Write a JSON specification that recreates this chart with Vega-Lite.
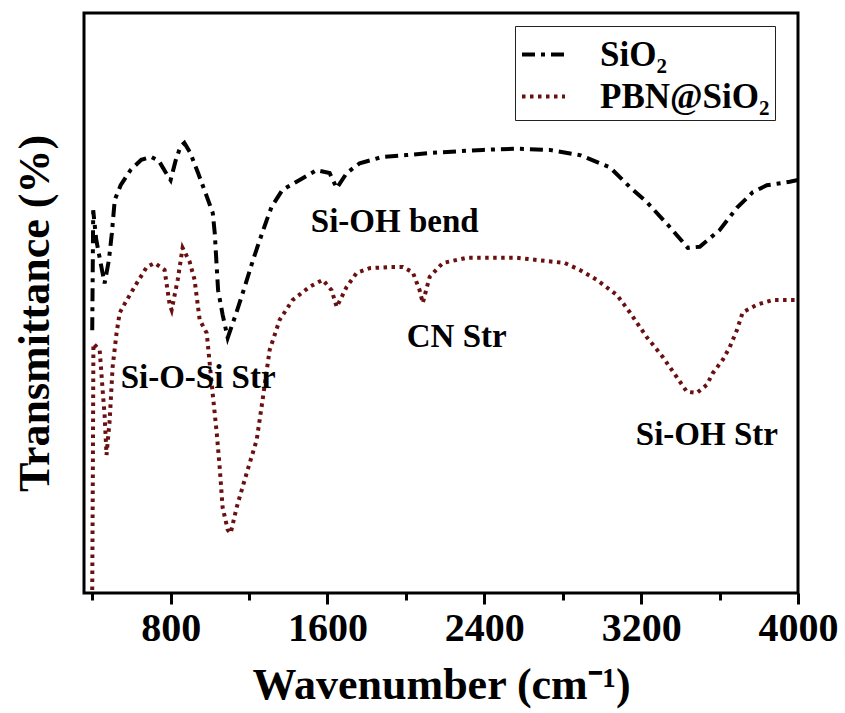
{
  "$schema": "https://vega.github.io/schema/vega-lite/v6.json",
  "width": 714,
  "height": 580,
  "autosize": {"type": "none"},
  "padding": {"left": 84, "top": 13, "right": 47, "bottom": 120},
  "background": "white",
  "config": {
    "view": {"stroke": "black", "strokeWidth": 3},
    "font": "Liberation Serif",
    "axis": {"grid": false}
  },
  "datasets": {
    "spectra": [
      {"w":400,"t":45.3,"s":"SiO₂"},{"w":405,"t":66.0,"s":"SiO₂"},{"w":420,"t":61.0,"s":"SiO₂"},{"w":440,"t":57.4,"s":"SiO₂"},{"w":463,"t":53.4,"s":"SiO₂"},{"w":485,"t":57.4,"s":"SiO₂"},{"w":500,"t":62.0,"s":"SiO₂"},{"w":515,"t":67.8,"s":"SiO₂"},{"w":545,"t":70.3,"s":"SiO₂"},{"w":595,"t":72.9,"s":"SiO₂"},{"w":650,"t":74.7,"s":"SiO₂"},{"w":700,"t":75.2,"s":"SiO₂"},{"w":740,"t":74.5,"s":"SiO₂"},{"w":775,"t":72.5,"s":"SiO₂"},{"w":800,"t":71.2,"s":"SiO₂"},{"w":825,"t":74.5,"s":"SiO₂"},{"w":850,"t":77.0,"s":"SiO₂"},{"w":870,"t":77.6,"s":"SiO₂"},{"w":900,"t":75.9,"s":"SiO₂"},{"w":940,"t":72.4,"s":"SiO₂"},{"w":985,"t":68.3,"s":"SiO₂"},{"w":1015,"t":65.5,"s":"SiO₂"},{"w":1025,"t":62.0,"s":"SiO₂"},{"w":1035,"t":56.2,"s":"SiO₂"},{"w":1042,"t":52.2,"s":"SiO₂"},{"w":1065,"t":48.0,"s":"SiO₂"},{"w":1091,"t":44.0,"s":"SiO₂"},{"w":1137,"t":48.5,"s":"SiO₂"},{"w":1178,"t":52.8,"s":"SiO₂"},{"w":1220,"t":57.4,"s":"SiO₂"},{"w":1255,"t":60.9,"s":"SiO₂"},{"w":1290,"t":64.3,"s":"SiO₂"},{"w":1315,"t":66.6,"s":"SiO₂"},{"w":1370,"t":69.5,"s":"SiO₂"},{"w":1458,"t":71.2,"s":"SiO₂"},{"w":1545,"t":72.9,"s":"SiO₂"},{"w":1611,"t":72.4,"s":"SiO₂"},{"w":1647,"t":69.8,"s":"SiO₂"},{"w":1698,"t":72.4,"s":"SiO₂"},{"w":1764,"t":74.1,"s":"SiO₂"},{"w":1882,"t":75.2,"s":"SiO₂"},{"w":2004,"t":75.5,"s":"SiO₂"},{"w":2137,"t":75.9,"s":"SiO₂"},{"w":2392,"t":76.4,"s":"SiO₂"},{"w":2565,"t":76.6,"s":"SiO₂"},{"w":2734,"t":76.4,"s":"SiO₂"},{"w":2887,"t":75.5,"s":"SiO₂"},{"w":3040,"t":73.4,"s":"SiO₂"},{"w":3142,"t":70.0,"s":"SiO₂"},{"w":3229,"t":67.4,"s":"SiO₂"},{"w":3346,"t":63.1,"s":"SiO₂"},{"w":3438,"t":59.5,"s":"SiO₂"},{"w":3499,"t":59.7,"s":"SiO₂"},{"w":3601,"t":62.6,"s":"SiO₂"},{"w":3688,"t":66.4,"s":"SiO₂"},{"w":3769,"t":69.1,"s":"SiO₂"},{"w":3841,"t":70.3,"s":"SiO₂"},{"w":3958,"t":70.9,"s":"SiO₂"},{"w":4000,"t":71.2,"s":"SiO₂"},
      {"w":400,"t":0.5,"s":"PBN@SiO₂"},{"w":403,"t":20.0,"s":"PBN@SiO₂"},{"w":406,"t":43.0,"s":"PBN@SiO₂"},{"w":438,"t":41.9,"s":"PBN@SiO₂"},{"w":453,"t":35.0,"s":"PBN@SiO₂"},{"w":463,"t":30.7,"s":"PBN@SiO₂"},{"w":473,"t":23.8,"s":"PBN@SiO₂"},{"w":489,"t":29.8,"s":"PBN@SiO₂"},{"w":504,"t":39.0,"s":"PBN@SiO₂"},{"w":524,"t":44.8,"s":"PBN@SiO₂"},{"w":540,"t":48.3,"s":"PBN@SiO₂"},{"w":576,"t":50.5,"s":"PBN@SiO₂"},{"w":627,"t":53.4,"s":"PBN@SiO₂"},{"w":678,"t":56.2,"s":"PBN@SiO₂"},{"w":718,"t":56.9,"s":"PBN@SiO₂"},{"w":769,"t":55.7,"s":"PBN@SiO₂"},{"w":795,"t":49.7,"s":"PBN@SiO₂"},{"w":805,"t":48.8,"s":"PBN@SiO₂"},{"w":836,"t":54.0,"s":"PBN@SiO₂"},{"w":861,"t":59.5,"s":"PBN@SiO₂"},{"w":897,"t":57.1,"s":"PBN@SiO₂"},{"w":922,"t":54.0,"s":"PBN@SiO₂"},{"w":948,"t":47.1,"s":"PBN@SiO₂"},{"w":984,"t":44.8,"s":"PBN@SiO₂"},{"w":1014,"t":34.5,"s":"PBN@SiO₂"},{"w":1035,"t":27.6,"s":"PBN@SiO₂"},{"w":1050,"t":21.7,"s":"PBN@SiO₂"},{"w":1065,"t":14.8,"s":"PBN@SiO₂"},{"w":1091,"t":10.9,"s":"PBN@SiO₂"},{"w":1106,"t":10.3,"s":"PBN@SiO₂"},{"w":1137,"t":14.8,"s":"PBN@SiO₂"},{"w":1188,"t":20.7,"s":"PBN@SiO₂"},{"w":1239,"t":26.4,"s":"PBN@SiO₂"},{"w":1269,"t":33.3,"s":"PBN@SiO₂"},{"w":1305,"t":41.9,"s":"PBN@SiO₂"},{"w":1356,"t":47.1,"s":"PBN@SiO₂"},{"w":1422,"t":50.5,"s":"PBN@SiO₂"},{"w":1509,"t":52.8,"s":"PBN@SiO₂"},{"w":1576,"t":54.0,"s":"PBN@SiO₂"},{"w":1621,"t":52.2,"s":"PBN@SiO₂"},{"w":1647,"t":49.3,"s":"PBN@SiO₂"},{"w":1698,"t":52.8,"s":"PBN@SiO₂"},{"w":1749,"t":55.2,"s":"PBN@SiO₂"},{"w":1815,"t":56.0,"s":"PBN@SiO₂"},{"w":1917,"t":56.2,"s":"PBN@SiO₂"},{"w":1984,"t":56.2,"s":"PBN@SiO₂"},{"w":2035,"t":55.3,"s":"PBN@SiO₂"},{"w":2070,"t":52.2,"s":"PBN@SiO₂"},{"w":2086,"t":50.0,"s":"PBN@SiO₂"},{"w":2121,"t":54.5,"s":"PBN@SiO₂"},{"w":2188,"t":56.9,"s":"PBN@SiO₂"},{"w":2310,"t":57.8,"s":"PBN@SiO₂"},{"w":2565,"t":57.8,"s":"PBN@SiO₂"},{"w":2810,"t":56.9,"s":"PBN@SiO₂"},{"w":2887,"t":55.7,"s":"PBN@SiO₂"},{"w":2973,"t":54.0,"s":"PBN@SiO₂"},{"w":3076,"t":51.4,"s":"PBN@SiO₂"},{"w":3142,"t":48.4,"s":"PBN@SiO₂"},{"w":3229,"t":44.1,"s":"PBN@SiO₂"},{"w":3310,"t":40.7,"s":"PBN@SiO₂"},{"w":3382,"t":37.2,"s":"PBN@SiO₂"},{"w":3433,"t":34.7,"s":"PBN@SiO₂"},{"w":3484,"t":34.5,"s":"PBN@SiO₂"},{"w":3535,"t":35.9,"s":"PBN@SiO₂"},{"w":3565,"t":37.9,"s":"PBN@SiO₂"},{"w":3616,"t":40.2,"s":"PBN@SiO₂"},{"w":3652,"t":42.4,"s":"PBN@SiO₂"},{"w":3688,"t":45.3,"s":"PBN@SiO₂"},{"w":3718,"t":48.4,"s":"PBN@SiO₂"},{"w":3790,"t":49.7,"s":"PBN@SiO₂"},{"w":3871,"t":50.5,"s":"PBN@SiO₂"},{"w":3973,"t":50.5,"s":"PBN@SiO₂"},{"w":4000,"t":50.5,"s":"PBN@SiO₂"}
    ],
    "labels": [
      {"w":940,"t":37.1,"label":"Si-O-Si Str"},
      {"w":1943,"t":64.0,"label":"Si-OH bend"},
      {"w":2259,"t":44.1,"label":"CN Str"},
      {"w":3535,"t":27.2,"label":"Si-OH Str"}
    ]
  },
  "layer": [
    {
      "data": {"name": "spectra"},
      "mark": {"type": "line", "strokeWidth": 4, "strokeCap": "butt", "clip": true},
      "encoding": {
        "x": {
          "field": "w", "type": "quantitative",
          "scale": {"domain": [358, 4000], "nice": false, "zero": false},
          "axis": {
            "orient": "bottom",
            "values": [800, 1600, 2400, 3200, 4000],
            "format": "d",
            "title": "Wavenumber (cm⁻¹)",
            "domain": false,
            "tickSize": 11, "tickWidth": 3, "tickColor": "black",
            "labelFont": "Liberation Serif", "labelFontSize": 40, "labelFontWeight": "bold", "labelColor": "black",
            "labelPadding": 4, "labelFlush": false, "labelOverlap": false,
            "titleFont": "Liberation Serif", "titleFontSize": 44, "titleFontWeight": "bold", "titleColor": "black",
            "titlePadding": 15
          }
        },
        "y": {
          "field": "t", "type": "quantitative",
          "scale": {"domain": [0, 100], "nice": false, "zero": false},
          "axis": {
            "title": "Transmittance (%)",
            "labels": false, "ticks": false, "domain": false,
            "titleFont": "Liberation Serif", "titleFontSize": 44, "titleFontWeight": "bold", "titleColor": "black",
            "titlePadding": 27, "titleY": 300
          }
        },
        "color": {
          "field": "s", "type": "nominal",
          "scale": {"domain": ["SiO₂", "PBN@SiO₂"], "range": ["#000000", "#6a1010"]},
          "legend": {
            "title": null, "orient": "none", "legendX": 431, "legendY": 13,
            "symbolType": "stroke", "symbolSize": 1849, "symbolStrokeWidth": 4,
            "labelFont": "Liberation Serif", "labelFontSize": 35, "labelFontWeight": "bold", "labelColor": "black",
            "labelOffset": 33, "rowPadding": 0, "labelLimit": 400,
            "strokeColor": "#222222", "padding": 5, "fillColor": "white"
          }
        },
        "strokeDash": {
          "field": "s", "type": "nominal",
          "scale": {"domain": ["SiO₂", "PBN@SiO₂"], "range": [[13, 6, 4, 6], [3.5, 4.5]]},
          "legend": {
            "title": null, "orient": "none", "legendX": 431, "legendY": 13,
            "symbolType": "stroke", "symbolSize": 1849, "symbolStrokeWidth": 4,
            "labelFont": "Liberation Serif", "labelFontSize": 35, "labelFontWeight": "bold", "labelColor": "black",
            "labelOffset": 33, "rowPadding": 0, "labelLimit": 400,
            "strokeColor": "#222222", "padding": 5, "fillColor": "white"
          }
        }
      }
    },
    {
      "data": {"name": "labels"},
      "mark": {"type": "text", "font": "Liberation Serif", "fontSize": 33, "fontWeight": "bold", "color": "black", "align": "center", "baseline": "middle"},
      "encoding": {
        "x": {
          "field": "w", "type": "quantitative",
          "axis": {
            "orient": "bottom",
            "values": [400, 1200, 2000, 2800, 3600],
            "labels": false, "domain": false, "title": null,
            "tickSize": 7, "tickWidth": 3, "tickColor": "black"
          }
        },
        "y": {
          "field": "t", "type": "quantitative",
          "axis": {
            "title": "Transmittance (%)",
            "labels": false, "ticks": false, "domain": false,
            "titleFont": "Liberation Serif", "titleFontSize": 44, "titleFontWeight": "bold", "titleColor": "black",
            "titlePadding": 27, "titleY": 300
          }
        },
        "text": {"field": "label"}
      }
    }
  ],
  "resolve": {"axis": {"x": "independent"}}
}
